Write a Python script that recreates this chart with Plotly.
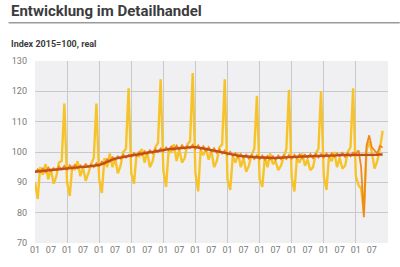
import pandas as pd
import plotly.graph_objects as go

dates = pd.date_range("2010-01-01", "2020-11-01", freq="MS")

# Unadjusted (yellow)
unadjusted = [
    90, 84.5, 95, 92.5, 96, 91, 94.5, 89.5, 92, 96.5, 97, 116,
    90, 85.5, 95.5, 94, 97, 92, 95, 90.5, 93, 96, 98, 116,
    91, 86.5, 98, 95, 99.5, 95, 98, 93, 95.5, 100, 101, 121,
    93, 89.5, 99, 98.5, 101, 96.5, 100, 95, 97, 101.5, 103, 124,
    94, 88.5, 100, 100, 102.5, 97, 101, 96.5, 98, 102.5, 103.5, 126,
    93, 87, 100.5, 99, 101, 97.5, 100.5, 95, 97, 101.5, 102.5, 124,
    91, 87.5, 98.5, 96.5, 99.5, 95, 98, 93.5, 95.5, 99, 101, 118.5,
    91, 88.5, 98.5, 95, 99.5, 96, 97, 94, 95.5, 98.5, 101, 120.5,
    91.5, 87, 98, 96.5, 99.5, 95.5, 97.5, 94, 95, 99.5, 101, 120,
    92, 87.5, 98.5, 97, 100, 95, 98, 94.5, 95.5, 100, 101.5, 121,
    92, 89, 88, 80, 100.5, 103.5, 100, 94.5, 97, 101, 107,
]

# Seasonally adjusted (orange)
adjusted = [
    93.2, 94.3, 93.5, 94.6, 93.4, 94.9, 93.8, 94.7, 94.1, 95.2, 94.3, 95.4,
    94.2, 95.6, 94.5, 95.8, 94.7, 95.6, 94.8, 96.0, 95.1, 95.9, 95.0, 96.3,
    95.4, 96.8, 96.1, 97.6, 96.8, 98.3, 97.4, 98.6, 97.8, 99.1, 98.1, 99.0,
    98.4, 99.6, 98.7, 100.0, 99.0, 100.3, 99.4, 100.6, 99.6, 100.9, 100.0, 101.2,
    100.2, 101.5, 100.6, 101.8, 100.7, 102.1, 100.9, 102.2, 101.1, 102.0, 101.3, 102.4,
    101.0, 102.2, 100.8, 101.9, 100.4, 101.6, 100.1, 101.2, 99.8, 100.9, 99.5, 100.5,
    99.0, 100.1, 98.7, 99.6, 98.2, 99.3, 98.0, 99.1, 97.8, 98.9, 97.7, 98.9,
    97.6, 98.8, 97.5, 98.7, 97.6, 98.6, 97.4, 98.8, 97.6, 98.9, 97.7, 99.0,
    97.8, 99.1, 97.9, 99.2, 97.9, 99.1, 98.1, 99.3, 98.0, 99.4, 98.2, 99.3,
    98.2, 99.5, 98.3, 99.6, 98.4, 99.5, 98.5, 99.7, 98.4, 99.6, 98.6, 99.8,
    99.5, 100.5, 95, 78.5, 102, 105.5, 101.5, 100.5, 99.5, 102, 101.5,
]

# Trend (dark)
trend = [
    93.5, 93.6, 93.7, 93.8, 93.9, 94.0, 94.1, 94.2, 94.3, 94.4, 94.5, 94.6,
    94.7, 94.8, 94.9, 95.0, 95.0, 95.0, 95.1, 95.1, 95.2, 95.3, 95.4, 95.5,
    95.7, 96.0, 96.4, 96.8, 97.2, 97.5, 97.8, 98.0, 98.2, 98.4, 98.5, 98.7,
    98.8, 99.0, 99.1, 99.3, 99.4, 99.6, 99.7, 99.9, 100.0, 100.2, 100.3, 100.5,
    100.6, 100.8, 100.9, 101.0, 101.1, 101.2, 101.3, 101.4, 101.5, 101.5, 101.6, 101.6,
    101.6, 101.5, 101.4, 101.2, 101.0, 100.8, 100.6, 100.5, 100.3, 100.2, 100.0, 99.8,
    99.6, 99.4, 99.2, 99.0, 98.8, 98.7, 98.6, 98.5, 98.4, 98.4, 98.3, 98.3,
    98.2, 98.2, 98.1, 98.1, 98.1, 98.0, 98.0, 98.1, 98.1, 98.2, 98.2, 98.3,
    98.3, 98.4, 98.4, 98.5, 98.5, 98.5, 98.6, 98.6, 98.6, 98.7, 98.7, 98.7,
    98.8, 98.8, 98.8, 98.9, 98.9, 98.9, 99.0, 99.0, 99.0, 99.0, 99.1, 99.1,
    99.1, 99.1, 99.0, 98.9, 98.9, 99.0, 99.0, 99.1, 99.1, 99.2, 99.2,
]

label_dates = pd.date_range("2010-01-01", "2020-07-01", freq="6MS")
label_text = [d.strftime("%m") for d in label_dates]
year_starts = pd.date_range("2010-01-01", "2021-01-01", freq="YS")

x_range = ["2010-01-01", "2021-01-01"]
y_ticks = [70, 80, 90, 100, 110, 120, 130]

fig = go.Figure()
fig.add_trace(go.Scatter(x=dates, y=unadjusted, mode="lines", xaxis="x", yaxis="y",
                         line=dict(color="#f6c42a", width=2.4), showlegend=False))
fig.add_trace(go.Scatter(x=dates, y=adjusted, mode="lines", xaxis="x2", yaxis="y",
                         line=dict(color="#ee8a1c", width=1.8), showlegend=False))
fig.add_trace(go.Scatter(x=dates, y=trend, mode="lines", xaxis="x2", yaxis="y",
                         line=dict(color="#c24e16", width=2.4), showlegend=False))

L, R, T, B = 27, 12, 61, 20
PW, PH = 400 - L - R, 267 - T - B

fig.update_layout(
    width=400, height=267,
    margin=dict(l=L, r=R, t=T, b=B, pad=0),
    paper_bgcolor="white",
    plot_bgcolor="#f0f0f3",
    font=dict(family="Roboto", color="#7a7a7a", size=9),
    xaxis=dict(
        type="date", range=x_range,
        tickvals=list(year_starts), showticklabels=False,
        showgrid=True, gridcolor="#c9c9cc", gridwidth=1,
        zeroline=False, showline=False, ticks="",
    ),
    xaxis2=dict(
        type="date", range=x_range, overlaying="x", side="bottom",
        tickvals=list(label_dates), ticktext=label_text,
        showgrid=False, zeroline=False, showline=False, ticks="",
        tickfont=dict(size=9, color="#7a7a7a"),
    ),
    yaxis=dict(
        range=[70, 130], tickvals=y_ticks,
        showgrid=True, gridcolor="#c9c9cc", gridwidth=1,
        zeroline=False, showline=False, ticks="",
        ticklabelstandoff=7,
        tickfont=dict(size=9, color="#7a7a7a"),
    ),
    shapes=[
        dict(type="line", xref="paper", yref="paper",
             x0=-L / PW, x1=1 + R / PW,
             y0=1 + (T - 22) / PH, y1=1 + (T - 22) / PH,
             line=dict(color="#9a9a9a", width=1.5)),
    ],
    annotations=[
        dict(text="<b>Entwicklung im Detailhandel</b>", xref="paper", yref="paper",
             x=-L / PW, y=1 + (T - 10) / PH, xanchor="left", yanchor="middle",
             showarrow=False, font=dict(size=15, color="#3c3c3c", family="Roboto")),
        dict(text="<b>Index 2015=100, real</b>", xref="paper", yref="paper",
             x=-L / PW, y=1 + (T - 44) / PH, xanchor="left", yanchor="middle",
             showarrow=False, font=dict(size=9, color="#3c3c3c", family="Roboto")),
    ],
)

fig.write_html("out.html")
